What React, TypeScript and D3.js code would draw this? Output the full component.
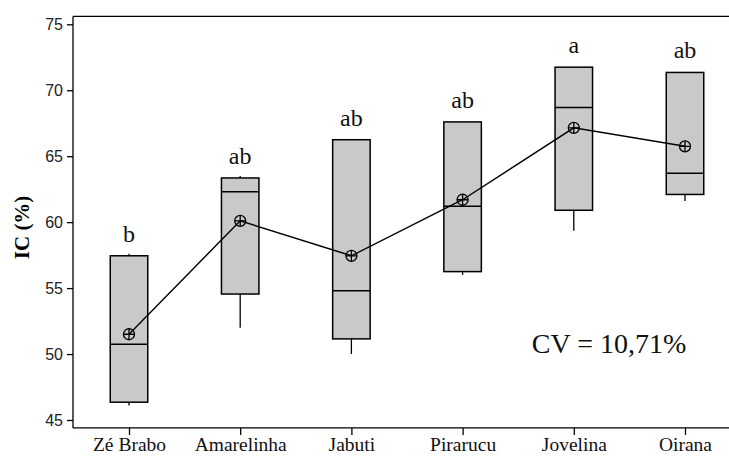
import { useEffect, useRef } from "react";
import * as d3 from "d3";

// Cultivars and their box-plot summaries (IC %)
const CULTIVARS = ["Zé Brabo", "Amarelinha", "Jabuti", "Pirarucu", "Jovelina", "Oirana"];
const WHISKER_LOW = [46.1, 52.0, 50.0, 56.0, 59.35, 61.6];
const Q1 = [46.35, 54.55, 51.15, 56.25, 60.9, 62.1];
const MEDIAN = [50.75, 62.3, 54.8, 61.2, 68.7, 63.7];
const Q3 = [57.45, 63.35, 66.25, 67.6, 71.75, 71.35];
const WHISKER_HIGH = [57.6, 63.5, 66.25, 67.6, 71.75, 71.35];
const MEANS = [51.5, 60.1, 57.45, 61.7, 67.15, 65.75];
const LETTERS = ["b", "ab", "ab", "ab", "a", "ab"];
const Y_TICKS = [45, 50, 55, 60, 65, 70, 75];
const CV_LABEL = "CV = 10,71%";

const W = 729;
const H = 456;

export default function App() {
  const svgRef = useRef<SVGSVGElement | null>(null);

  useEffect(() => {
    const svg = d3.select(svgRef.current);
    svg.selectAll("*").remove();

    const y = d3.scaleLinear().domain([45, 75]).range([420, 24.3]);
    const x = d3.scalePoint<string>().domain(CULTIVARS).range([129, 685]);
    const left = 73;
    const top = y(75.6);
    const bottom = y(44.4);
    const boxW = 37.5;

    // frame top line
    svg.append("line")
      .attr("x1", left).attr("x2", W)
      .attr("y1", top).attr("y2", top)
      .attr("stroke", "#000").attr("stroke-width", 1.3);

    // ----- Axes -----
    const yAxis = svg.append("g")
      .attr("transform", `translate(${left},0)`)
      .call(d3.axisLeft(y).tickValues(Y_TICKS).tickSize(6).tickPadding(4).tickSizeOuter(0));
    yAxis.select(".domain").attr("d", `M0,${top}V${bottom}`).attr("stroke-width", 1.3);
    yAxis.selectAll(".tick line").attr("stroke-width", 1.3);
    yAxis.selectAll(".tick text")
      .attr("font-family", "'Liberation Sans', Arial, sans-serif")
      .attr("font-size", 16)
      .attr("fill", "#222");

    const xAxis = svg.append("g")
      .attr("transform", `translate(0,${bottom})`)
      .call(d3.axisBottom(x).tickSize(7).tickPadding(2).tickSizeOuter(0));
    xAxis.select(".domain").attr("d", `M${left},0H${W}`).attr("stroke-width", 1.3);
    xAxis.selectAll(".tick line").attr("stroke-width", 1.3);
    xAxis.selectAll(".tick text")
      .attr("font-family", "'Liberation Serif', 'Times New Roman', serif")
      .attr("font-size", 19.5)
      .attr("fill", "#111");

    // Y title
    svg.append("text")
      .attr("transform", `translate(29,${y(59.6)}) rotate(-90)`)
      .attr("text-anchor", "middle")
      .attr("font-family", "'Liberation Serif', 'Times New Roman', serif")
      .attr("font-weight", "bold")
      .attr("font-size", 21)
      .text("IC (%)");

    // ----- Boxes -----
    CULTIVARS.forEach((c, i) => {
      const cx = x(c) as number;
      const g = svg.append("g");
      g.append("line")
        .attr("x1", cx).attr("x2", cx)
        .attr("y1", y(WHISKER_LOW[i])).attr("y2", y(Q1[i]))
        .attr("stroke", "#000").attr("stroke-width", 1.3);
      g.append("line")
        .attr("x1", cx).attr("x2", cx)
        .attr("y1", y(WHISKER_HIGH[i])).attr("y2", y(Q3[i]))
        .attr("stroke", "#000").attr("stroke-width", 1.3);
      g.append("rect")
        .attr("x", cx - boxW / 2)
        .attr("y", y(Q3[i]))
        .attr("width", boxW)
        .attr("height", y(Q1[i]) - y(Q3[i]))
        .attr("fill", "#c9c9c9")
        .attr("stroke", "#000")
        .attr("stroke-width", 1.5);
      g.append("line")
        .attr("x1", cx - boxW / 2).attr("x2", cx + boxW / 2)
        .attr("y1", y(MEDIAN[i])).attr("y2", y(MEDIAN[i]))
        .attr("stroke", "#000").attr("stroke-width", 1.5);
      g.append("text")
        .attr("x", cx)
        .attr("y", y(Q3[i]) - 14)
        .attr("text-anchor", "middle")
        .attr("font-family", "'Liberation Serif', 'Times New Roman', serif")
        .attr("font-size", 24)
        .attr("fill", "#111")
        .text(LETTERS[i]);
    });

    // ----- Mean line + markers -----
    const line = d3.line<number>()
      .x((_, i) => x(CULTIVARS[i]) as number)
      .y((d) => y(d));
    svg.append("path")
      .datum(MEANS)
      .attr("fill", "none")
      .attr("stroke", "#000")
      .attr("stroke-width", 1.4)
      .attr("d", line);

    const r = 5.5;
    MEANS.forEach((m, i) => {
      const cx = x(CULTIVARS[i]) as number;
      const cy = y(m);
      svg.append("circle")
        .attr("cx", cx).attr("cy", cy).attr("r", r)
        .attr("fill", "none").attr("stroke", "#000").attr("stroke-width", 1.3);
      svg.append("path")
        .attr("d", `M${cx - r},${cy}H${cx + r}M${cx},${cy - r}V${cy + r}`)
        .attr("stroke", "#000").attr("stroke-width", 1.3);
    });

    // CV annotation
    svg.append("text")
      .attr("x", 609)
      .attr("y", 353)
      .attr("text-anchor", "middle")
      .attr("font-family", "'Liberation Serif', 'Times New Roman', serif")
      .attr("font-size", 28)
      .attr("fill", "#111")
      .text(CV_LABEL);
  }, []);

  return (
    <svg
      ref={svgRef}
      width={W}
      height={H}
      style={{ position: "absolute", left: 0, top: 0, background: "#fff" }}
    />
  );
}
